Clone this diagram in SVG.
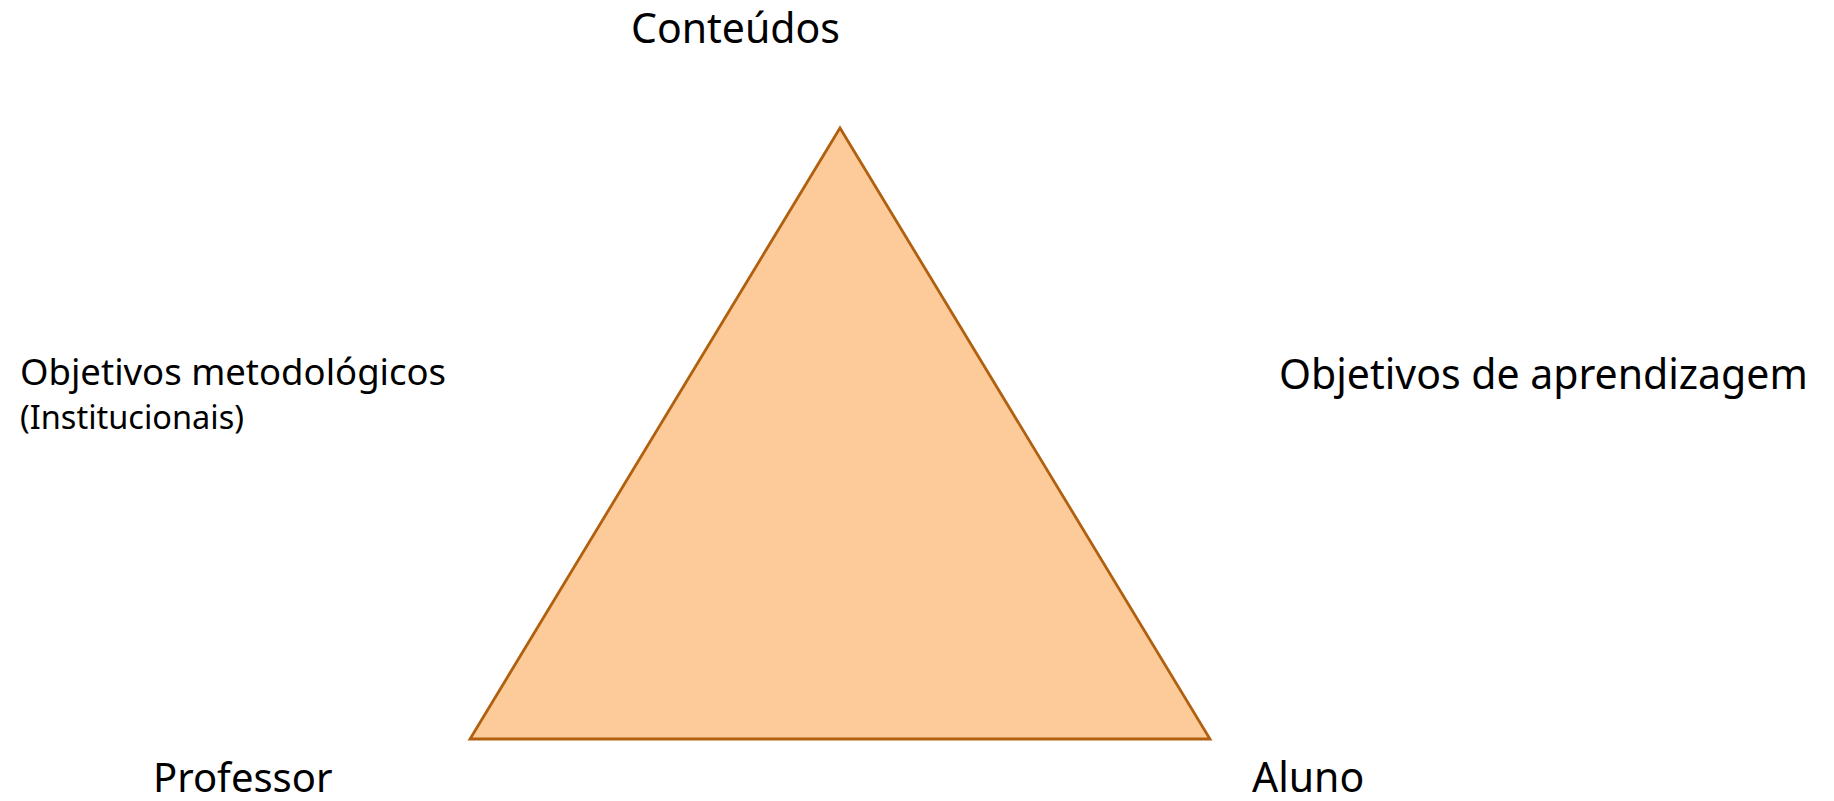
<svg xmlns="http://www.w3.org/2000/svg" width="1834" height="801" viewBox="0 0 1834 801">
<style>
.lbl{font-family:"Noto Sans","Open Sans","DejaVu Sans",sans-serif;fill:#000}
.tri{fill:#FDCA99;stroke:#B0600E;stroke-width:2.8;stroke-linejoin:miter}
</style>
<rect width="1834" height="801" fill="#fff"/>
<g id="connectors"></g>
<g id="triangle"><polygon class="tri" points="840,128 470,739 1210,739"/></g>
<g id="conteudos"><text class="lbl" x="631" y="43" font-size="41">Conteúdos</text></g>
<g id="obj-metodologicos">
<text class="lbl" x="20" y="385" font-size="36.5">Objetivos metodológicos</text>
<text class="lbl" x="20" y="429" font-size="32.5">(Institucionais)</text>
</g>
<g id="obj-aprendizagem"><text class="lbl" x="1279" y="389" font-size="41">Objetivos de aprendizagem</text></g>
<g id="professor"><text class="lbl" x="153" y="792" font-size="40">Professor</text></g>
<g id="aluno"><text class="lbl" x="1252" y="792" font-size="41">Aluno</text></g>
</svg>
